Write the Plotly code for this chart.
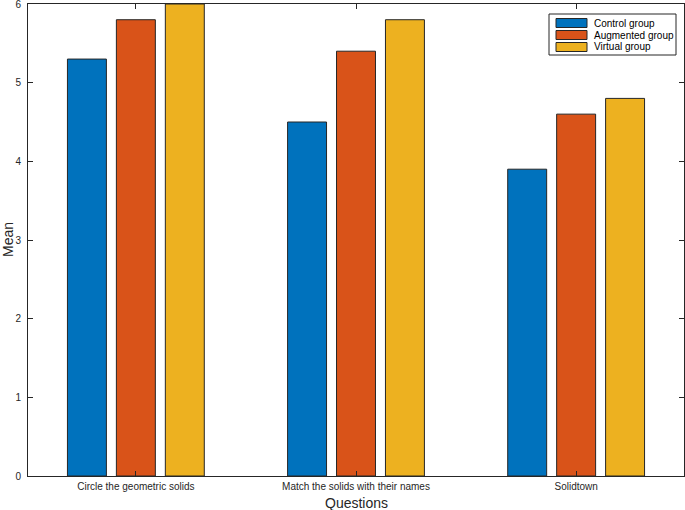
import plotly.graph_objects as go

categories = ["Circle the geometric solids", "Match the solids with their names", "Solidtown"]
control = [5.3, 4.5, 3.9]
augmented = [5.8, 5.4, 4.6]
virtual = [6.0, 5.8, 4.8]
series_names = ["Control group", "Augmented group", "Virtual group"]
colors = ["#0072BD", "#D95319", "#EDB120"]
y_ticks = [0, 1, 2, 3, 4, 5, 6]

FONT = "Liberation Sans, Arial"
x_pos = [1, 2, 3]
fig = go.Figure()
for name, vals, c in zip(series_names, [control, augmented, virtual], colors):
    fig.add_trace(go.Bar(x=x_pos, y=vals, name=name, showlegend=False,
                         marker=dict(color=c, line=dict(color="#262626", width=1))))

axis_common = dict(showline=True, linecolor="#262626", linewidth=1, mirror="ticks",
                   ticks="inside", ticklen=5, tickcolor="#262626", showgrid=False, zeroline=False,
                   automargin=False, ticklabeloverflow="allow",
                   tickfont=dict(family=FONT, size=10, color="#262626"))
fig.update_layout(
    width=685, height=510,
    margin=dict(l=28, r=1, t=4, b=34),
    barmode="group", bargap=0.333, bargroupgap=0.204,
    plot_bgcolor="white", paper_bgcolor="white",
    xaxis=dict(range=[0.51, 3.49], tickvals=x_pos, ticktext=categories, ticklabelstandoff=1, **axis_common),
    yaxis=dict(range=[0, 6], tickvals=y_ticks, ticklabelstandoff=4, **axis_common),
    showlegend=False,
)

def px_x(px):
    return (px - 28) / 656
def px_y(py):
    return (476 - py) / 472

# axis titles
fig.add_annotation(text="Questions", xref="paper", yref="paper", x=0.5, y=px_y(503),
                   yanchor="middle", showarrow=False, font=dict(family=FONT, size=14, color="#262626"))
fig.add_annotation(text="Mean", xref="paper", yref="paper", x=px_x(8), y=0.5, textangle=-90,
                   xanchor="center", showarrow=False, font=dict(family=FONT, size=14, color="#262626"))

# legend box (MATLAB style)
fig.add_shape(type="rect", xref="paper", yref="paper", x0=px_x(549), x1=px_x(676), y0=px_y(55), y1=px_y(14),
              line=dict(color="#262626", width=1), fillcolor="white", layer="above")
row_y = [23, 35, 47]
for name, c, ry in zip(series_names, colors, row_y):
    fig.add_shape(type="rect", xref="paper", yref="paper", x0=px_x(556), x1=px_x(587),
                  y0=px_y(ry + 4.5), y1=px_y(ry - 4.5), line=dict(color="#262626", width=1),
                  fillcolor=c, layer="above")
    fig.add_annotation(text=name, xref="paper", yref="paper", x=px_x(592), y=px_y(ry),
                       xanchor="left", yanchor="middle", showarrow=False,
                       font=dict(family=FONT, size=10, color="#000000"))

fig.write_html("out.html", config={"displayModeBar": False},
               post_script="document.body.style.margin='0';")
